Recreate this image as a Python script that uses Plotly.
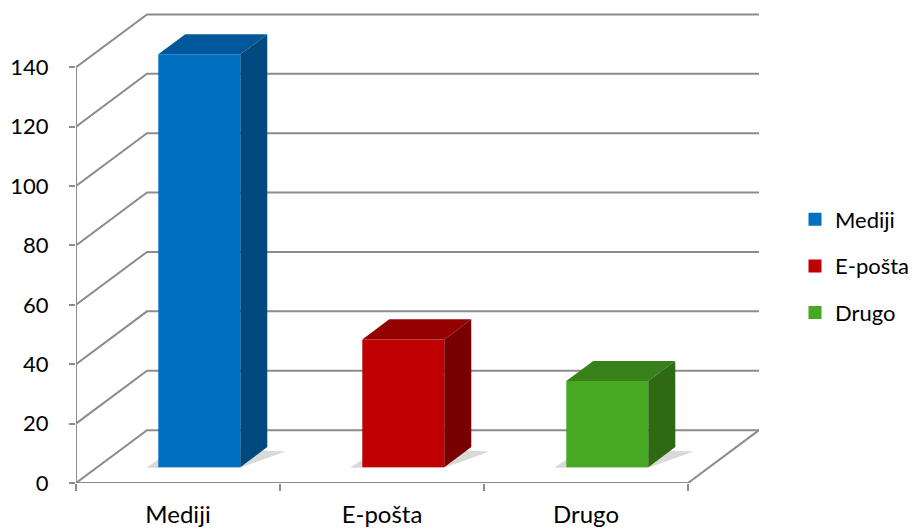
import plotly.graph_objects as go

# ---- data ----
categories = ["Mediji", "E-pošta", "Drugo"]
values = [139, 43, 29]
y_ticks = [0, 20, 40, 60, 80, 100, 120, 140]

# ---- styling / geometry (not data) ----
front_colors = ["#0070C0", "#C00000", "#47A822"]
top_colors = ["#00589A", "#950000", "#38801A"]
side_colors = ["#004A80", "#780000", "#2D6A13"]
GRID = "#8C8C8C"
FONT = "Lato"
DX = 71 / 204.0      # depth offset in category units
DY = 17.8            # depth offset in value units
F0, F1 = 0.30, 0.68  # bar depth fraction start / end
W = 0.402            # bar width (category units)
YMAX = max(y_ticks)
OFF = 8              # default page body margin

fig = go.Figure()

n = len(categories)
xl0, xr0 = -0.5, n - 0.5


def line(xs, ys):
    fig.add_trace(go.Scatter(x=xs, y=ys, mode="lines", line=dict(color=GRID, width=2),
                             hoverinfo="skip", showlegend=False, cliponaxis=False))


def poly(xs, ys, color):
    fig.add_trace(go.Scatter(x=xs + [xs[0]], y=ys + [ys[0]], fill="toself",
                             fillcolor=color, line=dict(width=0), mode="lines",
                             hoverinfo="skip", showlegend=False, cliponaxis=False))


# back wall horizontal gridlines + left wall diagonals
for v in y_ticks:
    line([xl0, xl0 + DX, xr0 + DX], [v, v + DY, v + DY])
# floor right edge
line([xr0, xr0 + DX], [0, DY])
# front axes lines
line([xl0, xl0, xr0], [YMAX, 0, 0])

d = F1 - F0
# soft shadows at the base of the bars
for i, v in enumerate(values):
    cx = i + F0 * DX
    xl, xr = cx - W / 2, cx + W / 2
    y0 = F0 * DY
    poly([xl - 0.06, xr, xr + d * DX + 0.09, xl + d * DX - 0.04],
         [y0 - 0.2, y0 - 0.2, y0 + d * DY - 1.5, y0 + d * DY],
         "rgba(170,170,170,0.45)")

# bars: front, top and side faces
for i, (cat, v) in enumerate(zip(categories, values)):
    cx = i + F0 * DX
    xl, xr = cx - W / 2, cx + W / 2
    y0 = F0 * DY
    yt = v + y0
    poly([xl, xr, xr, xl], [y0, y0, yt, yt], front_colors[i])
    poly([xl, xr, xr + d * DX, xl + d * DX], [yt, yt, yt + d * DY, yt + d * DY], top_colors[i])
    poly([xr, xr + d * DX, xr + d * DX, xr], [y0, y0 + d * DY, yt + d * DY, yt], side_colors[i])

# legend entries
for i, cat in enumerate(categories):
    fig.add_trace(go.Scatter(x=[None], y=[None], mode="markers", name=cat,
                             legendgroup=cat,
                             marker=dict(symbol="square", size=13, color=front_colors[i],
                                         line=dict(width=0))))

PX_PER_UNIT = 2.971
y_top = 158.6
plot_h = y_top * PX_PER_UNIT
W_FIG, H_FIG = 918 - OFF, 529 - OFF
zero_px = 483 - OFF
left_px = 76 - OFF
right_px = 759 - OFF

fig.update_layout(
    width=W_FIG, height=H_FIG,
    margin=dict(l=left_px, r=W_FIG - right_px, t=zero_px - plot_h, b=H_FIG - zero_px, pad=0),
    paper_bgcolor="white", plot_bgcolor="white",
    font=dict(family=FONT, size=22, color="#000000"),
    showlegend=True,
    legend=dict(xref="container", yref="container", x=(795 - OFF) / W_FIG,
                y=1 - (266 - OFF) / H_FIG,
                xanchor="left", yanchor="middle", tracegroupgap=15,
                font=dict(family=FONT, size=22, color="#000000"),
                bgcolor="rgba(0,0,0,0)"),
    xaxis=dict(range=[xl0, xr0 + DX], tickvals=list(range(n)), ticktext=categories,
               ticks="", showgrid=False, zeroline=False, showline=False,
               automargin=False, ticklabelstandoff=15,
               tickfont=dict(family=FONT, size=24),
               minor=dict(tickvals=[i - 0.5 for i in range(n + 1)], ticks="outside",
                          ticklen=7, tickwidth=2, tickcolor=GRID, showgrid=False)),
    yaxis=dict(range=[0, y_top], tickvals=y_ticks, ticks="outside", ticklen=6,
               tickwidth=2, tickcolor=GRID, showgrid=False, zeroline=False,
               showline=False, automargin=False, ticklabelstandoff=16),
)

fig.write_html("out.html")
